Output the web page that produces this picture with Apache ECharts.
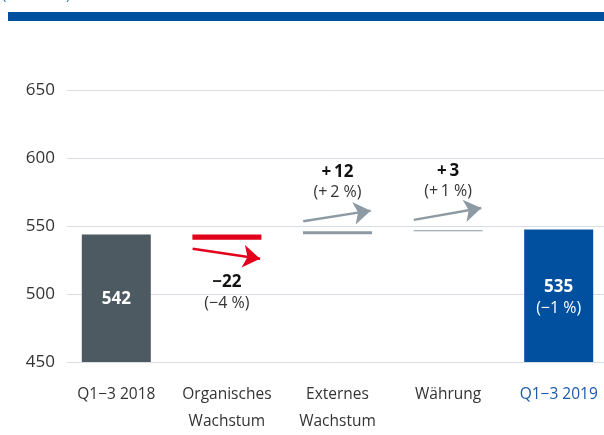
<!DOCTYPE html>
<html><head><meta charset="utf-8">
<script src="https://cdn.jsdelivr.net/npm/echarts@6/dist/echarts.min.js"></script>
<style>html,body{margin:0;padding:0;background:#fff}#c{width:604px;height:435px}</style>
</head><body><div id="c"></div>
<script>
// ---- data ----
const categories = ['Q1\u22123 2018', 'Organisches\nWachstum', 'Externes\nWachstum', 'W\u00e4hrung', 'Q1\u22123 2019'];
const valueLabels = ['542', '\u221222', '+\u200912', '+\u20093', '535'];
const pctLabels = [null, '(\u22124 %)', '(+\u20092 %)', '(+\u20091 %)', '(\u22121 %)'];
const barBottom = [450, 540, 544.1, 546.4, 450];
const barTop = [544, 544, 546.3, 547.1, 547.6];
const arrowFrom = [null, 533.4, 553.7, 554.7, null];
const arrowTo = [null, 526, 561.5, 563.5, null];
const yTicks = [450, 500, 550, 600, 650];

const colors = ['#4d5a61', '#e2001a', '#8d9aa3', '#8d9aa3', '#00509f'];
const arrowColors = [null, '#e2001a', '#8d9aa3', '#8d9aa3', null];
const font = '"Open Sans", "Noto Sans", sans-serif';

const visData = categories.map((c, i) => {
  const d = { value: +(barTop[i] - barBottom[i]).toFixed(2), itemStyle: { color: colors[i] } };
  if (i === 0) {
    d.label = { show: true, position: 'inside', offset: [0, 1], formatter: valueLabels[i], color: '#fff', fontWeight: 'bold', fontSize: 17, fontFamily: font };
  } else if (i === 4) {
    d.label = { show: true, position: 'inside', offset: [0, 2], formatter: '{a|' + valueLabels[i] + '}\n{b|' + pctLabels[i] + '}',
      rich: { a: { color: '#fff', fontWeight: 'bold', fontSize: 17, lineHeight: 21, fontFamily: font },
              b: { color: '#fff', fontSize: 16, lineHeight: 21, fontFamily: font } } };
  } else {
    d.label = { show: true, position: i === 1 ? 'bottom' : 'top', distance: i === 1 ? 32 : 28,
      formatter: '{a|' + valueLabels[i] + '}\n{b|' + pctLabels[i] + '}',
      rich: { a: { color: '#111', fontWeight: 'bold', fontSize: 17, lineHeight: 21, fontFamily: font },
              b: { color: '#333', fontSize: 16, lineHeight: 21, fontFamily: font } } };
  }
  return d;
});

const arrowSeries = [];
categories.forEach((c, i) => {
  if (arrowFrom[i] == null) return;
  arrowSeries.push({
    type: 'lines', coordinateSystem: 'cartesian2d', xAxisIndex: 2, yAxisIndex: 1, silent: true,
    symbol: ['none', 'arrow'], symbolSize: [12, 17],
    lineStyle: { color: arrowColors[i], width: 2.5, opacity: 1 },
    data: [{ coords: [[i - 0.31, arrowFrom[i]], [i + 0.3, arrowTo[i]]] }]
  });
});

const chart = echarts.init(document.getElementById('c'), null, { renderer: 'canvas' });
chart.setOption({
  animation: false,
  backgroundColor: '#fff',
  grid: [
    { left: 67, right: 0, top: 90.5, bottom: 73, outerBoundsMode: 'none', containLabel: false },
    { left: 61, width: 553, top: 90.5, bottom: 73, outerBoundsMode: 'none', containLabel: false }
  ],
  xAxis: [
    { type: 'category', gridIndex: 0, data: categories, show: false },
    { type: 'category', gridIndex: 1, data: categories,
      axisLine: { show: false }, axisTick: { show: false },
      axisLabel: { interval: 0, margin: 19, fontSize: 15.5, lineHeight: 27, fontFamily: font, hideOverlap: false,
        color: (v, idx) => idx === 4 ? '#1a5aa6' : '#333' } },
    { type: 'value', gridIndex: 1, min: -0.5, max: 4.5, show: false }
  ],
  yAxis: [
    { type: 'value', gridIndex: 0, min: 450, max: 650, interval: 50,
      axisLine: { show: false }, axisTick: { show: false },
      axisLabel: { margin: 12, fontSize: 17, color: '#333', fontFamily: font,
        formatter: v => yTicks.includes(v) ? String(v) : '' },
      splitLine: { lineStyle: { color: '#d8dde3', width: 1 } } },
    { type: 'value', gridIndex: 1, min: 450, max: 650, interval: 50, show: false, splitLine: { show: false } }
  ],
  series: [
    { type: 'bar', xAxisIndex: 1, yAxisIndex: 1, stack: 'w', barWidth: 69, silent: true,
      itemStyle: { color: 'transparent' }, data: barBottom },
    { type: 'bar', xAxisIndex: 1, yAxisIndex: 1, stack: 'w', barWidth: 69, silent: true, data: visData },
    ...arrowSeries
  ],
  graphic: [
    { type: 'rect', left: 8, top: 12, shape: { width: 596, height: 9 }, style: { fill: '#00509f' } },
    { type: 'text', left: 2, top: -13, style: { text: '(in Mio. \u20ac)', fill: '#2a78c0', fontSize: 15, fontFamily: font } }
  ]
});
</script>
</body></html>
